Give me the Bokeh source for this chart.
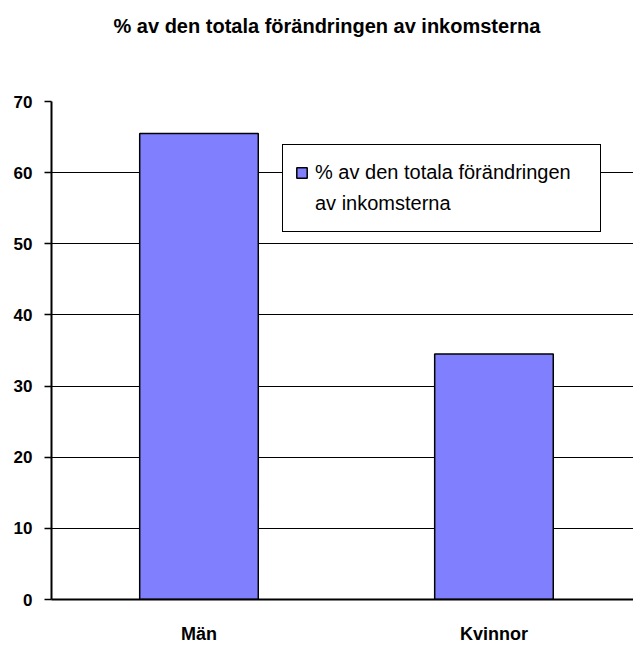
from bokeh.plotting import figure
from bokeh.models import Range1d, FixedTicker, Legend, LegendItem, Title
from bokeh.embed import file_html
from bokeh.resources import INLINE

categories = ["Män", "Kvinnor"]
values = [65.5, 34.5]
y_ticks = [0, 10, 20, 30, 40, 50, 60, 70]
legend_lines = ["% av den totala förändringen", "av inkomsterna"]
title_text = "% av den totala förändringen av inkomsterna"

xs = [i + 0.5 for i in range(len(categories))]

p = figure(width=633, height=646, output_backend="svg", toolbar_location=None,
           x_range=Range1d(0, 1.973), y_range=Range1d(0, 70),
           min_border_left=51, min_border_right=0, min_border_top=101, min_border_bottom=45)
p.title = None
# spacer between the frame and the title (first "above" item sits next to the frame)
p.add_layout(Title(text=" ", text_font_size="10px", standoff=50), "above")
p.add_layout(Title(text=title_text, align="left", offset=62, vertical_align="top",
                   text_font="Liberation Sans", text_font_size="20px",
                   text_font_style="bold", text_color="black", standoff=0), "above")

r = p.vbar(x=xs, top=values, width=0.402, bottom=0,
           fill_color="#8080FF", line_color="black", line_width=1.5)
# invisible renderer used only for the legend's second text line
r2 = p.vbar(x=[], top=[], width=0.1, fill_alpha=0, line_alpha=0)

p.outline_line_color = None
p.background_fill_color = "white"
p.border_fill_color = "white"

p.xgrid.visible = False
p.ygrid.grid_line_color = "black"
p.ygrid.grid_line_width = 1
p.ygrid.ticker = FixedTicker(ticks=y_ticks)

p.yaxis.ticker = FixedTicker(ticks=y_ticks)
p.yaxis.axis_line_color = "black"
p.yaxis.axis_line_width = 2
p.yaxis.major_tick_out = 7
p.yaxis.major_tick_in = 0
p.yaxis.major_tick_line_color = "black"
p.yaxis.major_tick_line_width = 1.5
p.yaxis.minor_tick_line_color = None
p.yaxis.major_label_standoff = 12
p.yaxis.major_label_text_font = "Liberation Sans"
p.yaxis.major_label_text_font_size = "17px"
p.yaxis.major_label_text_font_style = "bold"
p.yaxis.major_label_text_color = "black"

p.xaxis.ticker = FixedTicker(ticks=xs)
p.xaxis.major_label_overrides = {x: c for x, c in zip(xs, categories)}
p.xaxis.axis_line_color = "black"
p.xaxis.axis_line_width = 2
p.xaxis.major_tick_out = 0
p.xaxis.major_tick_in = 0
p.xaxis.minor_tick_line_color = None
p.xaxis.major_label_standoff = 24
p.xaxis.major_label_text_font = "Liberation Sans"
p.xaxis.major_label_text_font_size = "18px"
p.xaxis.major_label_text_font_style = "bold"
p.xaxis.major_label_text_color = "black"

legend = Legend(items=[LegendItem(label=legend_lines[0], renderers=[r]),
                       LegendItem(label=legend_lines[1], renderers=[r2])],
                location=(231, 367), padding=12, glyph_width=13, glyph_height=13,
                label_standoff=7, label_width=273, label_height=31,
                label_text_font="Liberation Sans", label_text_font_size="20px",
                label_text_color="black",
                border_line_color="black", border_line_width=1.5, border_line_alpha=1.0,
                background_fill_color="white", background_fill_alpha=1.0,
                spacing=0, margin=0)
p.add_layout(legend, "center")

open("out.html", "w").write(file_html(p, INLINE))
